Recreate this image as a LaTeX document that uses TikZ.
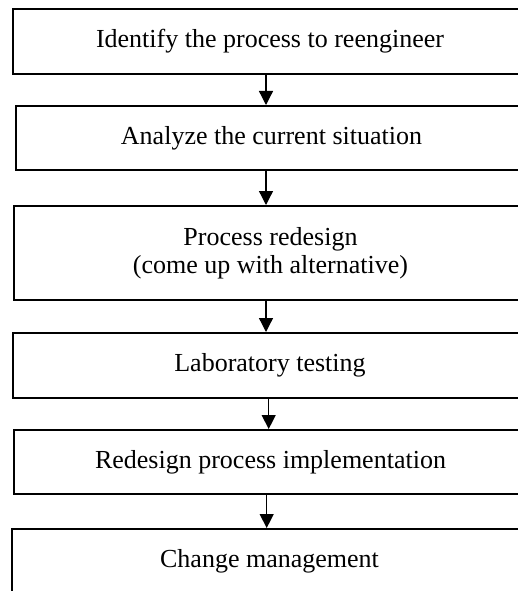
\documentclass[tikz,border=0pt]{standalone}
\usepackage{fontspec}
\setmainfont{Liberation Serif}
\usetikzlibrary{arrows.meta}
\begin{document}
\begin{tikzpicture}[x=1pt,y=-1pt,
    stepbox/.style={draw=black, line width=2pt, rectangle, inner sep=0pt,
      align=center, font=\fontsize{26}{27.6}\selectfont},
    flowarrow/.style={draw=black, line width=1.3pt,
      -{Triangle[width=14pt,length=14pt]}}]
  \useasboundingbox (0,0) rectangle (518,591);
  \clip (0,0) rectangle (518,591);
  % process steps, top to bottom
  \node[stepbox, minimum width=514pt, minimum height=65pt] (b1) at (270,41.5)
    {Identify the process to reengineer};
  \node[stepbox, minimum width=511pt, minimum height=64pt] (b2) at (271.5,138)
    {Analyze the current situation};
  \node[stepbox, minimum width=513pt, minimum height=94pt] (b3) at (270.5,253)
    {Process redesign\\(come up with alternative)};
  \node[stepbox, minimum width=514pt, minimum height=65pt] (b4) at (270,365.5)
    {Laboratory testing};
  \node[stepbox, minimum width=513pt, minimum height=64pt] (b5) at (270.5,462)
    {Redesign process implementation};
  \node[stepbox, minimum width=516pt, minimum height=64pt] (b6) at (269.5,561)
    {Change management};
  % columns of the connectors
  \coordinate (xa) at (266,0);
  \coordinate (xb) at (268.7,0);
  \coordinate (xc) at (266.7,0);
  \draw[flowarrow] (b1.south -| xa) -- (b2.north -| xa);
  \draw[flowarrow] (b2.south -| xa) -- (b3.north -| xa);
  \draw[flowarrow] (b3.south -| xa) -- (b4.north -| xa);
  \draw[flowarrow] (b4.south -| xb) -- (b5.north -| xb);
  \draw[flowarrow] (b5.south -| xc) -- (b6.north -| xc);
\end{tikzpicture}
\end{document}
